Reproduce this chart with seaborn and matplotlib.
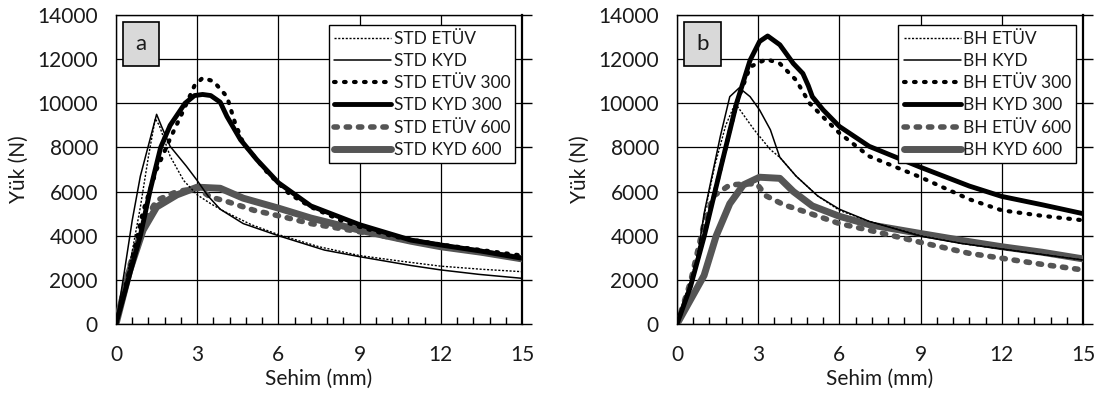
import numpy as np
import pandas as pd
import matplotlib
matplotlib.use("Agg")
import matplotlib.pyplot as plt
import seaborn as sns
from matplotlib.ticker import MultipleLocator

sns.set_theme(style="white")
plt.rcParams['font.family'] = ['Lato', 'DejaVu Sans']

# ---------------- Panel a (STD) ----------------
a_etuv_x = [0, 0.3, 0.6, 0.9, 1.2, 1.45, 1.6, 2.0, 2.5, 3.0, 3.5, 4.0, 5.0, 6.0, 7.5, 9.0, 10.5, 12.0, 13.5, 15.0]
a_etuv_y = [0, 1500, 3300, 5300, 7600, 9300, 9000, 7600, 6500, 5850, 5450, 5100, 4500, 4050, 3500, 3100, 2850, 2620, 2480, 2370]

a_kyd_x = [0, 0.3, 0.6, 0.9, 1.2, 1.5, 1.7, 2.0, 2.6, 3.0, 3.4, 3.85, 4.7, 6.0, 7.7, 9.0, 10.9, 12.0, 13.4, 15.0]
a_kyd_y = [0, 2300, 4700, 6700, 8100, 9500, 8900, 8050, 7150, 6500, 5800, 5200, 4550, 4000, 3350, 3050, 2650, 2450, 2250, 2070]

a_etuv300_x = [0, 0.5, 1.0, 1.5, 2.0, 2.5, 2.9, 3.2, 3.6, 4.1, 4.4, 4.7, 5.6, 6.4, 7.2, 8.3, 9.0, 10.3, 12.0, 13.5, 15.0]
a_etuv300_y = [0, 2450, 5100, 7000, 8400, 9700, 10800, 11150, 11000, 10300, 9100, 8200, 6850, 5900, 5300, 4700, 4400, 3950, 3600, 3350, 3100]

a_kyd300_x = [0, 0.45, 0.9, 1.25, 1.65, 2.0, 2.55, 2.9, 3.2, 3.5, 3.85, 4.1, 4.6, 5.2, 6.0, 7.2, 9.0, 10.9, 12.0, 13.5, 15.0]
a_kyd300_y = [0, 2000, 4000, 6000, 8000, 9000, 10000, 10350, 10400, 10350, 10050, 9400, 8350, 7450, 6400, 5350, 4500, 3800, 3580, 3300, 2980]

a_etuv600_x = [0, 0.5, 1.0, 1.5, 2.25, 3.0, 3.5, 4.1, 5.1, 6.2, 7.2, 9.0, 10.5, 12.0, 13.5, 15.0]
a_etuv600_y = [0, 2600, 4500, 5600, 6000, 6150, 5750, 5550, 5150, 4850, 4550, 4180, 3850, 3550, 3250, 2950]

a_kyd600_x = [0, 0.5, 1.0, 1.5, 2.25, 3.0, 3.85, 4.7, 6.0, 7.2, 9.0, 10.9, 12.0, 13.5, 15.0]
a_kyd600_y = [0, 2400, 4250, 5300, 5850, 6200, 6150, 5700, 5250, 4800, 4250, 3750, 3500, 3250, 2950]

# ---------------- Panel b (BH) ----------------
b_etuv_x = [0, 0.35, 0.75, 1.0, 1.4, 1.8, 2.15, 2.5, 2.85, 3.45, 3.8, 4.4, 5.2, 6.0, 7.1, 9.0, 10.5, 12.0, 13.5, 15.0]
b_etuv_y = [0, 1300, 3100, 4900, 7200, 9000, 10000, 9400, 8800, 7900, 7550, 6700, 5800, 5150, 4650, 4000, 3650, 3400, 3150, 2900]

b_kyd_x = [0, 0.35, 0.75, 1.0, 1.6, 1.95, 2.3, 2.7, 3.05, 3.45, 3.7, 3.8, 4.4, 5.2, 6.0, 7.1, 9.0, 10.5, 12.0, 13.5, 15.0]
b_kyd_y = [0, 1200, 3000, 5000, 8500, 10300, 10700, 10300, 9700, 8800, 7900, 7550, 6700, 5800, 5200, 4650, 3980, 3650, 3400, 3150, 2900]

b_etuv300_x = [0, 0.5, 1.0, 1.6, 2.2, 2.7, 3.3, 3.8, 4.4, 4.9, 5.5, 6.0, 7.1, 9.0, 10.8, 12.0, 13.5, 15.0]
b_etuv300_y = [0, 1800, 4000, 7000, 10000, 11650, 12000, 11800, 11050, 10000, 9250, 8650, 7600, 6650, 5650, 5150, 4900, 4700]

b_kyd300_x = [0, 0.5, 1.0, 1.6, 2.2, 2.7, 3.05, 3.35, 3.8, 4.3, 4.65, 4.85, 5.0, 5.4, 6.0, 7.1, 9.0, 10.8, 12.0, 13.5, 15.0]
b_kyd300_y = [0, 1700, 3950, 7000, 10000, 11950, 12800, 13050, 12650, 11800, 11350, 10800, 10300, 9700, 8950, 8050, 7100, 6250, 5780, 5400, 5000]

b_etuv600_x = [0, 0.5, 1.0, 1.35, 1.95, 2.55, 2.95, 3.3, 3.95, 4.7, 6.0, 7.1, 9.0, 10.8, 12.0, 13.5, 15.0]
b_etuv600_y = [0, 1900, 4550, 5800, 6300, 6350, 6350, 5800, 5400, 5100, 4550, 4250, 3700, 3200, 2980, 2700, 2450]

b_kyd600_x = [0, 0.5, 1.0, 1.45, 1.95, 2.45, 3.05, 3.8, 4.3, 5.0, 6.0, 7.1, 9.0, 10.8, 12.0, 13.5, 15.0]
b_kyd600_y = [0, 1100, 2200, 4000, 5450, 6300, 6650, 6600, 6000, 5350, 4880, 4500, 4100, 3730, 3500, 3250, 2950]

a_labels = ["STD ETÜV", "STD KYD", "STD ETÜV 300", "STD KYD 300", "STD ETÜV 600", "STD KYD 600"]
b_labels = ["BH ETÜV", "BH KYD", "BH ETÜV 300", "BH KYD 300", "BH ETÜV 600", "BH KYD 600"]

x_ticks = [0, 3, 6, 9, 12, 15]
y_ticks = [0, 2000, 4000, 6000, 8000, 10000, 12000, 14000]

styles = [
    dict(color="black", lw=1.0, ls=(0, (1.5, 1.2))),
    dict(color="black", lw=1.1, ls="-"),
    dict(color="black", lw=3.0, ls=(0, (0.4, 2.0)), dash_capstyle="round"),
    dict(color="black", lw=3.5, ls="-"),
    dict(color="#555555", lw=4.0, ls=(0, (0.6, 1.6)), dash_capstyle="round"),
    dict(color="#555555", lw=5.0, ls="-"),
]

panels = [
    ("a", a_labels, [(a_etuv_x, a_etuv_y), (a_kyd_x, a_kyd_y), (a_etuv300_x, a_etuv300_y),
                     (a_kyd300_x, a_kyd300_y), (a_etuv600_x, a_etuv600_y), (a_kyd600_x, a_kyd600_y)]),
    ("b", b_labels, [(b_etuv_x, b_etuv_y), (b_kyd_x, b_kyd_y), (b_etuv300_x, b_etuv300_y),
                     (b_kyd300_x, b_kyd300_y), (b_etuv600_x, b_etuv600_y), (b_kyd600_x, b_kyd600_y)]),
]

fig = plt.figure(figsize=(11.08, 3.96), dpi=100)
positions = [[116/1108, 1-324/396, 406/1108, 309/396],
             [677/1108, 1-324/396, 406/1108, 309/396]]

txt = "#1a1a1a"
for pos, (tag, labels, series) in zip(positions, panels):
    ax = fig.add_axes(pos)
    ax.set_facecolor("white")
    order = [5, 4, 3, 2, 1, 0]
    for i in order:
        xs, ys = series[i]
        df = pd.DataFrame({"x": xs, "y": ys})
        st = styles[i]
        sns.lineplot(data=df, x="x", y="y", ax=ax, sort=False, color=st["color"],
                     lw=st["lw"], linestyle=st["ls"], label=labels[i],
                     dash_capstyle=st.get("dash_capstyle", "butt"), zorder=3 + (5 - i) * 0.1)
    ax.set_xlim(0, 15)
    ax.set_ylim(0, 14000)
    ax.set_xticks(x_ticks)
    ax.set_yticks(y_ticks)
    ax.xaxis.set_minor_locator(MultipleLocator(0.6))
    ax.grid(True, which="major", color="black", lw=0.9)
    ax.set_axisbelow(True)
    for s in ax.spines.values():
        s.set_color("black")
        s.set_linewidth(1.0)
    ax.spines["right"].set_linewidth(1.6)
    ax.tick_params(axis="x", which="major", direction="out", length=6, width=1,
                   color="black", labelsize=15, labelcolor=txt, pad=9)
    ax.tick_params(axis="x", which="minor", direction="in", length=5, width=1,
                   color="black", bottom=True)
    ax.tick_params(axis="y", which="major", direction="out", length=7, width=1,
                   color="black", labelsize=15, labelcolor=txt, right=True, pad=6)
    ax.set_xlabel("Sehim (mm)", fontsize=15, color=txt, labelpad=3)
    ax.set_ylabel("Yük (N)", fontsize=15, color=txt, labelpad=6)
    h, l = ax.get_legend_handles_labels()
    hmap = dict(zip(l, h))
    leg = ax.legend([hmap[k] for k in labels], labels, loc="upper right",
                    bbox_to_anchor=(0.988, 0.972), fontsize=12.5, frameon=True,
                    fancybox=False, edgecolor="black", framealpha=1, handlelength=3.3,
                    handletextpad=0.12, labelspacing=0.36, borderpad=0.3, borderaxespad=0.1)
    leg.get_frame().set_linewidth(1.0)
    for t in leg.get_texts():
        t.set_color(txt)
    ax.text(0.062, 0.906, tag, transform=ax.transAxes, fontsize=16, color=txt,
            ha="center", va="center",
            bbox=dict(boxstyle="square,pad=0.55", facecolor="#d9d9d9", edgecolor="black", lw=1.2),
            zorder=6)

fig.savefig("out.png", dpi=100, facecolor="white")
